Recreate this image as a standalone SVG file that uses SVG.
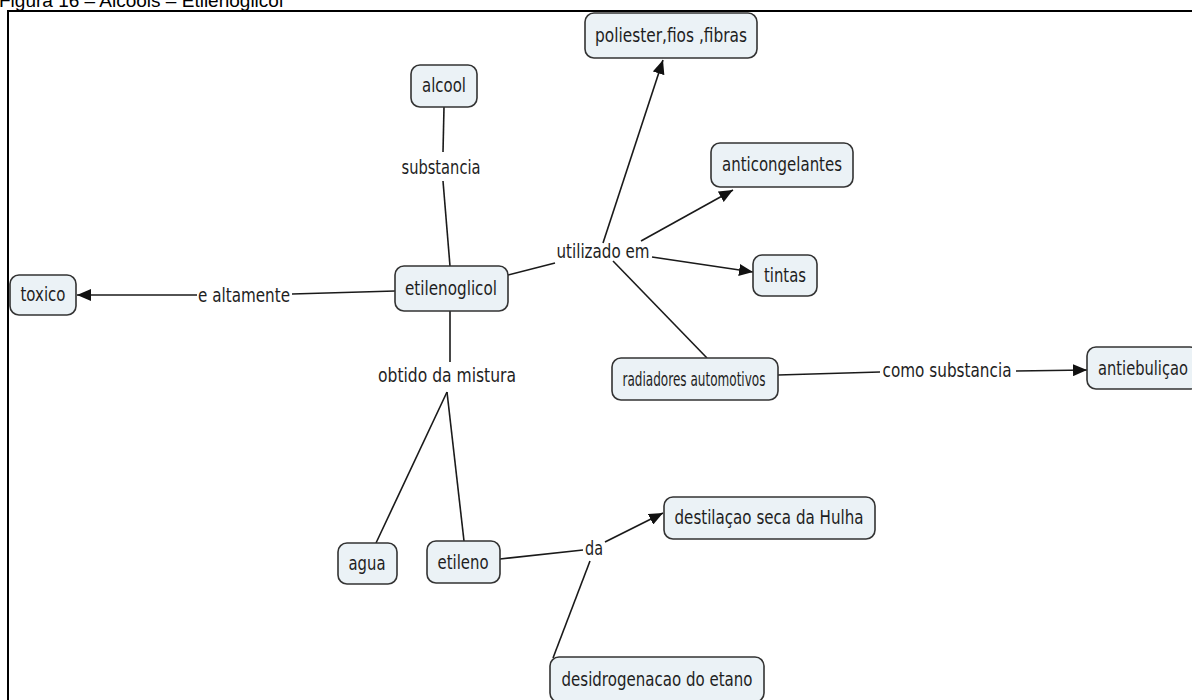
<svg xmlns="http://www.w3.org/2000/svg" width="1192" height="700" viewBox="0 0 1192 700">
  <defs>
    <marker id="arrow" markerWidth="14" markerHeight="12" refX="14" refY="6" orient="auto" markerUnits="userSpaceOnUse">
      <path d="M0,0 L14,6 L0,12 Z" fill="#111"/>
    </marker>
    <style>
      .node rect { fill: #ebf2f6; stroke: #333; stroke-width: 1.6; }
      .node text, .lbl { font-family: "DejaVu Sans", Verdana, sans-serif; font-size: 19px; fill: #1e1e1e; text-anchor: middle; }
      .title { font-family: "Liberation Sans", Arial, sans-serif; font-size: 19px; fill: #000; }
      #connectors line { stroke: #1a1a1a; stroke-width: 1.6; fill: none; }
      #connectors line.arr { marker-end: url(#arrow); }
    </style>
  </defs>

  <rect width="1192" height="700" fill="#fff"/>

  <!-- caption and frame -->
  <text class="title" x="-1" y="7">Figura 16 – Alcoois – Etilenoglicol</text>
  <rect x="8" y="11" width="1200" height="700" fill="none" stroke="#000" stroke-width="2"/>

  <!-- connectors -->
  <g id="connectors">
    <line x1="444" y1="107" x2="443" y2="152"/>
    <line x1="443" y1="181" x2="450" y2="266"/>
    <line x1="395" y1="291" x2="292" y2="294"/>
    <line class="arr" x1="197" y1="295" x2="77" y2="295"/>
    <line x1="508" y1="275" x2="555" y2="263"/>
    <line class="arr" x1="603" y1="243" x2="663" y2="60"/>
    <line class="arr" x1="641" y1="241" x2="733" y2="190"/>
    <line class="arr" x1="652" y1="257" x2="753" y2="272"/>
    <line x1="613" y1="261" x2="707" y2="358"/>
    <line x1="778" y1="375" x2="880" y2="372"/>
    <line class="arr" x1="1016" y1="371" x2="1087" y2="370"/>
    <line x1="450" y1="311" x2="450" y2="362"/>
    <line x1="447" y1="392" x2="376" y2="543"/>
    <line x1="447" y1="392" x2="464" y2="541"/>
    <line x1="500" y1="559" x2="583" y2="550"/>
    <line class="arr" x1="605" y1="542" x2="663" y2="513"/>
    <line x1="590" y1="561" x2="553" y2="658"/>
  </g>

  <!-- linking phrases -->
  <g id="labels">
    <text class="lbl" x="441" y="174" textLength="79" lengthAdjust="spacingAndGlyphs">substancia</text>
    <text class="lbl" x="244" y="302" textLength="92" lengthAdjust="spacingAndGlyphs">e altamente</text>
    <text class="lbl" x="603" y="258" textLength="93" lengthAdjust="spacingAndGlyphs">utilizado em</text>
    <text class="lbl" x="947" y="377" textLength="129" lengthAdjust="spacingAndGlyphs">como substancia</text>
    <text class="lbl" x="447" y="382" textLength="138" lengthAdjust="spacingAndGlyphs">obtido da mistura</text>
    <text class="lbl" x="594" y="555" textLength="18" lengthAdjust="spacingAndGlyphs">da</text>
  </g>

  <!-- concepts -->
  <g id="n-poliester" class="node"><rect x="585" y="13" width="172" height="45" rx="9"/><text x="671" y="42" textLength="152" lengthAdjust="spacingAndGlyphs">poliester,fios ,fibras</text></g>
  <g id="n-alcool" class="node"><rect x="411" y="65" width="66" height="42" rx="9"/><text x="444" y="92" textLength="44" lengthAdjust="spacingAndGlyphs">alcool</text></g>
  <g id="n-anticongelantes" class="node"><rect x="711" y="143" width="142" height="44" rx="9"/><text x="782" y="171" textLength="120" lengthAdjust="spacingAndGlyphs">anticongelantes</text></g>
  <g id="n-etilenoglicol" class="node"><rect x="395" y="266" width="113" height="45" rx="9"/><text x="451" y="295" textLength="92" lengthAdjust="spacingAndGlyphs">etilenoglicol</text></g>
  <g id="n-tintas" class="node"><rect x="753" y="255" width="64" height="41" rx="9"/><text x="785" y="282" textLength="42" lengthAdjust="spacingAndGlyphs">tintas</text></g>
  <g id="n-toxico" class="node"><rect x="10" y="275" width="66" height="40" rx="9"/><text x="43" y="301" textLength="45" lengthAdjust="spacingAndGlyphs">toxico</text></g>
  <g id="n-radiadores" class="node"><rect x="612" y="358" width="166" height="42" rx="9"/><text x="694" y="386" textLength="143" lengthAdjust="spacingAndGlyphs">radiadores automotivos</text></g>
  <g id="n-antiebulicao" class="node"><rect x="1087" y="347" width="112" height="42" rx="9"/><text x="1143" y="375" textLength="90" lengthAdjust="spacingAndGlyphs">antiebuliçao</text></g>
  <g id="n-agua" class="node"><rect x="338" y="543" width="59" height="41" rx="9"/><text x="367" y="570" textLength="37" lengthAdjust="spacingAndGlyphs">agua</text></g>
  <g id="n-etileno" class="node"><rect x="427" y="541" width="73" height="42" rx="9"/><text x="463" y="569" textLength="51" lengthAdjust="spacingAndGlyphs">etileno</text></g>
  <g id="n-destilacao" class="node"><rect x="664" y="497" width="211" height="42" rx="9"/><text x="769" y="524" textLength="189" lengthAdjust="spacingAndGlyphs">destilaçao seca da Hulha</text></g>
  <g id="n-desidrogenacao" class="node"><rect x="550" y="657" width="214" height="45" rx="9"/><text x="657" y="686" textLength="191" lengthAdjust="spacingAndGlyphs">desidrogenacao do etano</text></g>
</svg>
